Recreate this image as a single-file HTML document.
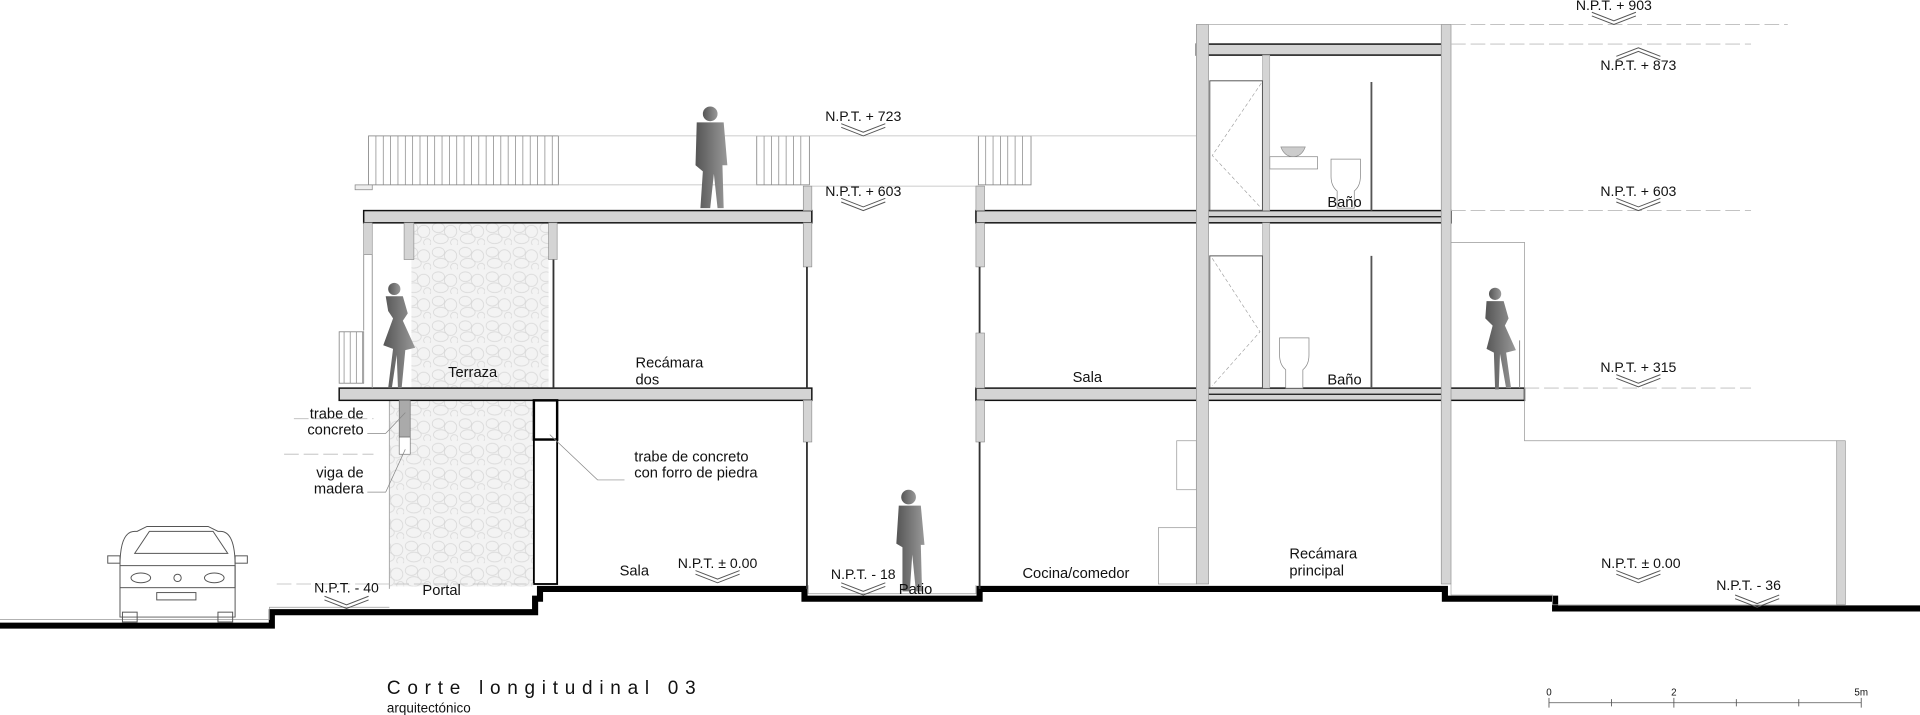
<!DOCTYPE html>
<html><head><meta charset="utf-8"><style>
html,body{margin:0;padding:0;background:#fff;}
svg{display:block;}
text{font-family:"Liberation Sans","DejaVu Sans",sans-serif;fill:#111;}
</style></head><body>
<svg width="1920" height="715" viewBox="0 0 1568 584" preserveAspectRatio="none" xmlns="http://www.w3.org/2000/svg">
<defs>
<pattern id="stone" width="22" height="20" patternUnits="userSpaceOnUse">
<rect width="22" height="20" fill="#f3f3f3"/>
<ellipse cx="6" cy="6" rx="5" ry="4" fill="none" stroke="#d6d6d6" stroke-width="0.6"/>
<ellipse cx="16" cy="9" rx="5" ry="5" fill="none" stroke="#d6d6d6" stroke-width="0.6"/>
<ellipse cx="8" cy="15" rx="6" ry="4" fill="none" stroke="#d6d6d6" stroke-width="0.6"/>
<ellipse cx="19" cy="18" rx="3" ry="3" fill="none" stroke="#d6d6d6" stroke-width="0.6"/>
</pattern>
<g id="chevD"><polyline points="-18,0 0,7 18,0" fill="none" stroke="#555" stroke-width="0.8"/><polyline points="-18,-3 0,4 18,-3" fill="none" stroke="#555" stroke-width="0.8"/></g>
<g id="chevU"><polyline points="-18,0 0,-7 18,0" fill="none" stroke="#555" stroke-width="0.8"/><polyline points="-18,3 0,-4 18,3" fill="none" stroke="#555" stroke-width="0.8"/></g>
<linearGradient id="pg" x1="0" x2="1"><stop offset="0" stop-color="#555"/><stop offset="1" stop-color="#999"/></linearGradient>
</defs>

<polyline points="0,511 222,511 222,500 437,500 437,489 441,489 441,481 657,481 657,489 800,489 800,481 1180,481 1180,489 1270,489 1270,497 1568,497" fill="none" stroke="#000" stroke-width="5"/>
<polyline points="0,506 220,506 220,496 318,496" fill="none" stroke="#999" stroke-width="0.6"/>
<polyline points="660,478 660,485 797,485 797,478" fill="none" stroke="#999" stroke-width="0.6"/>

<rect x="336" y="182" width="112" height="135" fill="url(#stone)"/>
<rect x="318" y="327" width="118" height="152" fill="url(#stone)"/>
<line x1="318" y1="327" x2="318" y2="481" stroke="#aaa" stroke-width="0.8"/>

<rect x="297" y="172" width="366" height="10" fill="#d4d4d4" stroke="#111" stroke-width="1.2"/>
<rect x="277" y="317" width="386" height="10" fill="#d4d4d4" stroke="#111" stroke-width="1.2"/>
<rect x="297" y="182" width="7" height="26" fill="#d4d4d4" stroke="#888" stroke-width="0.5"/>
<line x1="304" y1="208" x2="304" y2="317" stroke="#999" stroke-width="0.8"/>
<line x1="297" y1="208" x2="297" y2="270" stroke="#999" stroke-width="0.8"/>
<rect x="330" y="182" width="8" height="30" fill="#d4d4d4" stroke="#888" stroke-width="0.5"/>
<rect x="448" y="182" width="7" height="30" fill="#d4d4d4" stroke="#888" stroke-width="0.5"/>
<line x1="452" y1="212" x2="452" y2="317" stroke="#333" stroke-width="1.5"/>
<rect x="656" y="152" width="7" height="20" fill="#d4d4d4" stroke="#888" stroke-width="0.5"/>
<rect x="656" y="182" width="7" height="36" fill="#d4d4d4" stroke="#888" stroke-width="0.5"/>
<line x1="659" y1="218" x2="659" y2="317" stroke="#333" stroke-width="1.5"/>
<rect x="656" y="327" width="7" height="34" fill="#d4d4d4" stroke="#888" stroke-width="0.5"/>
<line x1="659" y1="361" x2="659" y2="481" stroke="#333" stroke-width="1.5"/>
<rect x="436" y="327" width="19" height="32" fill="none" stroke="#000" stroke-width="2"/>
<rect x="436" y="359" width="19" height="118" fill="none" stroke="#000" stroke-width="1.5"/>
<rect x="326" y="327" width="9" height="30" fill="#aaa" stroke="#666" stroke-width="0.5"/>
<rect x="326" y="357" width="9" height="14" fill="#fff" stroke="#666" stroke-width="0.5"/>
<rect x="301" y="111" width="155" height="40" fill="none" stroke="#888" stroke-width="0.7"/>
<g stroke="#888" stroke-width="0.6">
<path d="M307 111V151M313 111V151M319 111V151M325 111V151M331 111V151M337 111V151M343 111V151M349 111V151M355 111V151M361 111V151M367 111V151M373 111V151M379 111V151M385 111V151M391 111V151M397 111V151M403 111V151M409 111V151M415 111V151M421 111V151M427 111V151M433 111V151M439 111V151M445 111V151M451 111V151"/>
<path d="M624 111V151M630 111V151M636 111V151M642 111V151M648 111V151M654 111V151"/>
<path d="M805 111V151M811 111V151M817 111V151M823 111V151M829 111V151M835 111V151"/>
<path d="M281 271V313M286 271V313M291 271V313M296 271V313"/>
</g>
<rect x="618" y="111" width="43" height="40" fill="none" stroke="#888" stroke-width="0.7"/>
<rect x="799" y="111" width="43" height="40" fill="none" stroke="#888" stroke-width="0.7"/>
<rect x="277" y="271" width="20" height="42" fill="none" stroke="#888" stroke-width="0.7"/>
<line x1="456" y1="111" x2="977" y2="111" stroke="#bbb" stroke-width="0.6"/>
<line x1="456" y1="151" x2="618" y2="151" stroke="#bbb" stroke-width="0.6"/>
<line x1="663" y1="152" x2="799" y2="152" stroke="#bbb" stroke-width="0.6"/>
<path d="M290 155h14v-4h-14z" fill="#eee" stroke="#888" stroke-width="0.6"/>

<rect x="797" y="172" width="388" height="10" fill="#d4d4d4" stroke="#111" stroke-width="1.2"/>
<rect x="797" y="317" width="448" height="10" fill="#d4d4d4" stroke="#111" stroke-width="1.2"/>
<line x1="987" y1="177" x2="1177" y2="177" stroke="#111" stroke-width="1"/>
<line x1="987" y1="322" x2="1177" y2="322" stroke="#111" stroke-width="1"/>
<rect x="977" y="36" width="207" height="9" fill="#d4d4d4" stroke="#111" stroke-width="1.2"/>
<rect x="977" y="20" width="10" height="457" fill="#d4d4d4" stroke="#888" stroke-width="0.5"/>
<rect x="1177" y="20" width="8" height="457" fill="#d4d4d4" stroke="#888" stroke-width="0.5"/>
<line x1="987" y1="20" x2="1177" y2="20" stroke="#aaa" stroke-width="0.6"/>
<rect x="1031" y="45" width="6" height="127" fill="#d4d4d4" stroke="#999" stroke-width="0.4"/>
<rect x="1031" y="182" width="6" height="135" fill="#d4d4d4" stroke="#999" stroke-width="0.4"/>
<rect x="797" y="152" width="7" height="20" fill="#d4d4d4" stroke="#888" stroke-width="0.5"/>
<rect x="797" y="182" width="7" height="36" fill="#d4d4d4" stroke="#888" stroke-width="0.5"/>
<line x1="800" y1="218" x2="800" y2="272" stroke="#333" stroke-width="1.5"/>
<rect x="797" y="272" width="7" height="45" fill="#d4d4d4" stroke="#888" stroke-width="0.5"/>
<rect x="797" y="327" width="7" height="34" fill="#d4d4d4" stroke="#888" stroke-width="0.5"/>
<line x1="800" y1="361" x2="800" y2="481" stroke="#333" stroke-width="1.5"/>
<rect x="988" y="66" width="43" height="106" fill="none" stroke="#555" stroke-width="0.8"/>
<polyline points="1030,68 990,127 1030,170" fill="none" stroke="#999" stroke-width="0.5" stroke-dasharray="3,2"/>
<rect x="988" y="209" width="43" height="108" fill="none" stroke="#555" stroke-width="0.8"/>
<polyline points="990,211 1029,271 990,315" fill="none" stroke="#999" stroke-width="0.5" stroke-dasharray="3,2"/>
<line x1="1120" y1="67" x2="1120" y2="172" stroke="#555" stroke-width="1.5"/>
<line x1="1120" y1="209" x2="1120" y2="317" stroke="#555" stroke-width="1.5"/>
<rect x="1037" y="128" width="39" height="10" fill="none" stroke="#888" stroke-width="0.6"/>
<path d="M1046 120h20q-3 8-10 8q-7 0-10-8z" fill="#ccc" stroke="#888" stroke-width="0.5"/>
<path d="M1087 130h24v14q0 8-5 12v14h-14v-14q-5-4-5-12z" fill="#fff" stroke="#888" stroke-width="0.6"/>
<path d="M1045 276h24v14q0 8-5 12v15h-14v-15q-5-4-5-12z" fill="#fff" stroke="#888" stroke-width="0.6"/>
<rect x="961" y="360" width="16" height="40" fill="#fff" stroke="#999" stroke-width="0.6"/>
<rect x="946" y="431" width="31" height="46" fill="#fff" stroke="#999" stroke-width="0.6"/>
<polyline points="1185,198 1245,198 1245,360 1500,360" fill="none" stroke="#999" stroke-width="0.6"/>
<rect x="1500" y="360" width="7" height="134" fill="#d4d4d4" stroke="#888" stroke-width="0.5"/>
<line x1="1241" y1="278" x2="1241" y2="317" stroke="#888" stroke-width="0.8"/>
<polyline points="1185,477 1185,486 1268,486 1268,494 1500,494" fill="none" stroke="#aaa" stroke-width="0.6"/>

<g stroke="#bbb" stroke-width="0.7" stroke-dasharray="12,4">
<line x1="1185" y1="20" x2="1460" y2="20"/>
<line x1="1185" y1="36" x2="1430" y2="36"/>
<line x1="1185" y1="172" x2="1430" y2="172"/>
<line x1="1245" y1="317" x2="1430" y2="317"/>
<line x1="226" y1="477" x2="436" y2="477"/>
<line x1="240" y1="342" x2="305" y2="342"/>
<line x1="232" y1="371" x2="305" y2="371"/>
</g>
<g stroke="#888" stroke-width="0.6" fill="none">
<polyline points="300,354 315,354 331,337"/>
<polyline points="300,402 315,402 331,367"/>
<polyline points="510,392 488,392 449,355"/>
</g>

<g fill="url(#pg)">
<circle cx="580" cy="93" r="6"/>
<path d="M569 100h22l3 35h-4l1 35h-5l-3-28-3 28h-8l2-30-6-5z"/>
<circle cx="322" cy="236" r="5"/>
<path d="M315 242h14l4 14-4 6 10 22-8 2-3 31h-3l-1-27-4 27h-3l4-32-8-3 8-22-4-6z"/>
<circle cx="1221" cy="240" r="5"/>
<path d="M1214 246h14l4 14-3 6 9 20-8 2 4 29h-4l-5-28-1 29h-3l-1-30-6-3 5-19-6-6z"/>
<circle cx="742" cy="406" r="6"/>
<path d="M734 413h18l3 32h-3l1 38h-5l-3-30-2 30h-6l0-36-5-3z"/>
</g>

<g fill="none" stroke="#555" stroke-width="0.8">
<path d="M98 462q0-28 12-28h2l8-4h50l8 4h2q12 0 12 28v42h-94z" fill="#fff"/>
<path d="M110 452l12-18h52l12 18z"/>
<rect x="98" y="462" width="94" height="18"/>
<rect x="128" y="484" width="32" height="6"/>
<ellipse cx="115" cy="472" rx="8" ry="4"/><ellipse cx="175" cy="472" rx="8" ry="4"/>
<circle cx="145" cy="472" r="3"/>
<rect x="88" y="454" width="10" height="6"/><rect x="192" y="454" width="10" height="6"/>
<rect x="100" y="500" width="12" height="8"/><rect x="178" y="500" width="12" height="8"/>
</g>

<g font-size="11.5" text-anchor="middle">
<text x="1318" y="8">N.P.T. + 903</text>
<use href="#chevD" x="1318" y="13"/>
<text x="1338" y="57">N.P.T. + 873</text>
<use href="#chevU" x="1338" y="46"/>
<text x="705" y="99">N.P.T. + 723</text>
<use href="#chevD" x="705" y="104"/>
<text x="705" y="160">N.P.T. + 603</text>
<use href="#chevD" x="705" y="165"/>
<text x="1338" y="160">N.P.T. + 603</text>
<use href="#chevD" x="1338" y="165"/>
<text x="1338" y="304">N.P.T. + 315</text>
<use href="#chevD" x="1338" y="309"/>
<text x="586" y="464">N.P.T. ± 0.00</text>
<use href="#chevD" x="586" y="469"/>
<text x="1340" y="464">N.P.T. ± 0.00</text>
<use href="#chevD" x="1338" y="469"/>
<text x="705" y="473">N.P.T. - 18</text>
<use href="#chevD" x="705" y="479"/>
<text x="1428" y="482">N.P.T. - 36</text>
<use href="#chevD" x="1435" y="489"/>
<text x="283" y="484">N.P.T. - 40</text>
<use href="#chevD" x="283" y="490"/>
</g>

<g font-size="12">
<text x="366" y="308">Terraza</text>
<text x="519" y="300">Recámara</text><text x="519" y="314">dos</text>
<text x="506" y="470">Sala</text>
<text x="345" y="486">Portal</text>
<text x="734" y="485">Patio</text>
<text x="876" y="312">Sala</text>
<text x="1084" y="169">Baño</text>
<text x="1084" y="314">Baño</text>
<text x="835" y="472">Cocina/comedor</text>
<text x="1053" y="456">Recámara</text><text x="1053" y="470">principal</text>
<text x="297" y="342" text-anchor="end">trabe de</text>
<text x="297" y="355" text-anchor="end">concreto</text>
<text x="297" y="390" text-anchor="end">viga de</text>
<text x="297" y="403" text-anchor="end">madera</text>
<text x="518" y="377">trabe de concreto</text>
<text x="518" y="390">con forro de piedra</text>
</g>

<text x="316" y="567" font-size="15.5" letter-spacing="5.5">Corte longitudinal 03</text>
<text x="316" y="582" font-size="11">arquitectónico</text>

<g stroke="#555" stroke-width="0.7">
<line x1="1265" y1="574" x2="1520" y2="574"/>
<path d="M1265 570v8M1316 571v6M1367 570v8M1418 571v6M1469 571v6M1520 570v8"/>
</g>
<g font-size="8" text-anchor="middle"><text x="1265" y="568">0</text><text x="1367" y="568">2</text><text x="1520" y="568">5m</text></g>
</svg>
</body></html>
